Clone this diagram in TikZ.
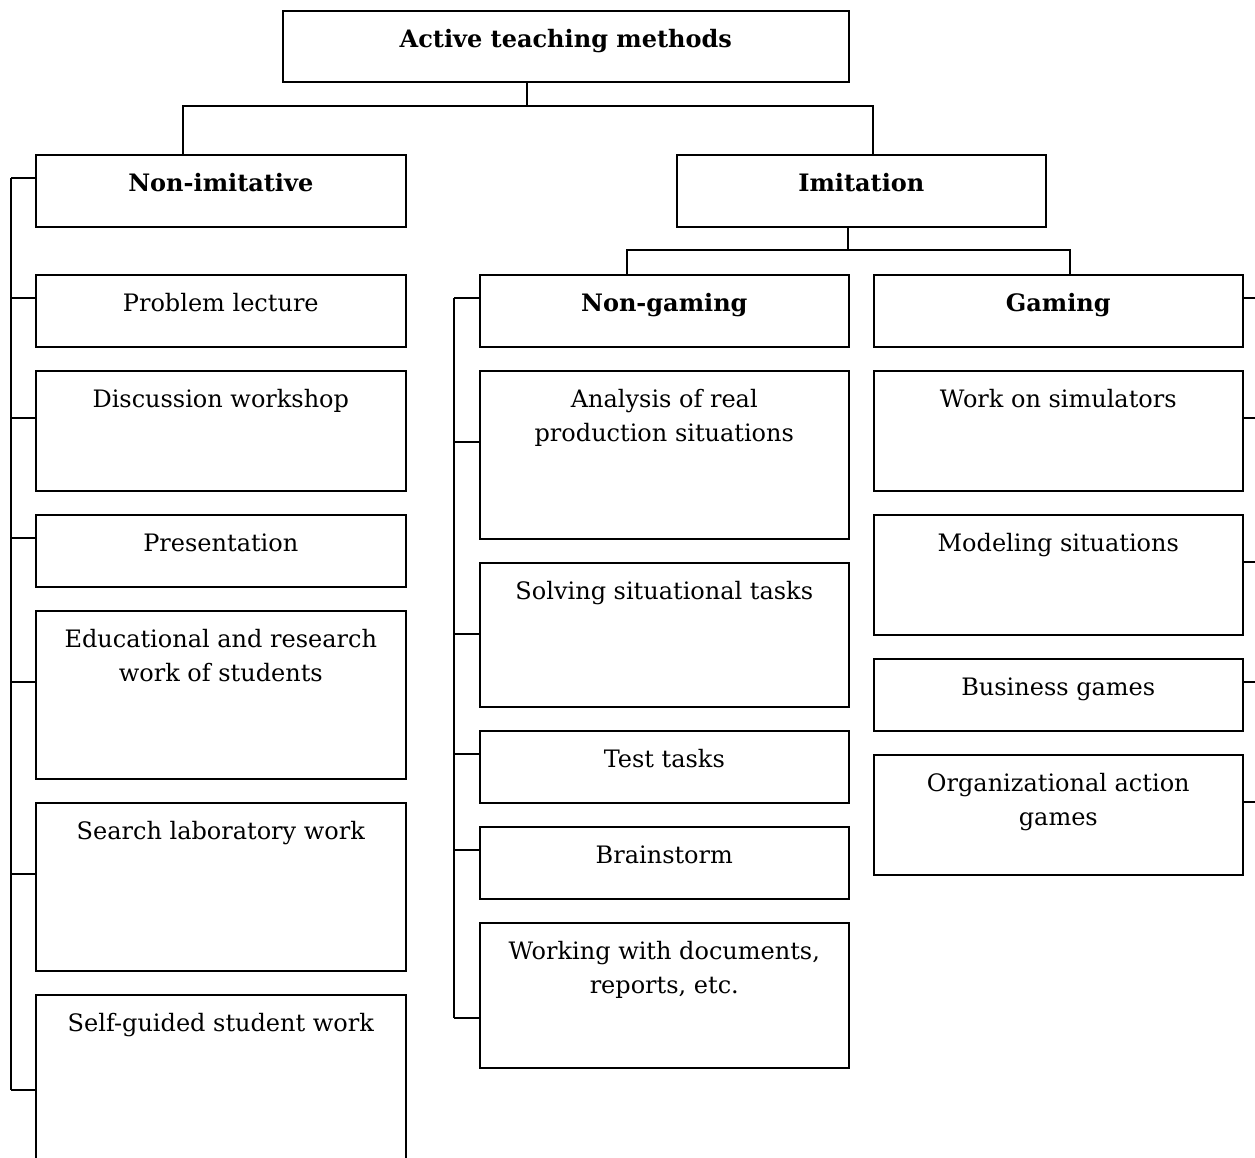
\documentclass[tikz,border=0pt]{standalone}
\usepackage{fontspec}
\setmainfont{DejaVu Serif}
\usetikzlibrary{calc}
\begin{document}
\begin{tikzpicture}[x=1pt,y=-1pt,
  box/.style={draw=black, line width=1.6pt, rectangle, inner sep=0, anchor=north west},
  txt/.style={font=\fontsize{24}{34}\selectfont, inner sep=0, align=center, anchor=base},
  hd/.style={txt, font=\fontsize{24}{34}\selectfont\bfseries},
  ln/.style={draw=black, line width=1.6pt}]
\useasboundingbox (0,0) rectangle (1255,1157);
\fill[white] (0,0) rectangle (1255,1157);
% boxes: name, x, y, w, h
\newcommand{\mybox}[5]{\node[box, minimum width=#4pt, minimum height=#5pt] (#1) at (#2,#3) {};}
\mybox{top}{282}{10}{566}{71}
\mybox{nonimit}{35}{154}{370}{72}
\mybox{imit}{676}{154}{369}{72}
% left column
\mybox{pl}{35}{274}{370}{72}
\mybox{dw}{35}{370}{370}{120}
\mybox{pr}{35}{514}{370}{72}
\mybox{er}{35}{610}{370}{168}
\mybox{sl}{35}{802}{370}{168}
\mybox{sg}{35}{994}{370}{196}
% middle column
\mybox{ng}{479}{274}{369}{72}
\mybox{an}{479}{370}{369}{168}
\mybox{ss}{479}{562}{369}{144}
\mybox{tt}{479}{730}{369}{72}
\mybox{bs}{479}{826}{369}{72}
\mybox{wd}{479}{922}{369}{145}
% right column
\mybox{gm}{873}{274}{369}{72}
\mybox{ws}{873}{370}{369}{120}
\mybox{ms}{873}{514}{369}{120}
\mybox{bg}{873}{658}{369}{72}
\mybox{oa}{873}{754}{369}{120}
% texts (base anchor = baseline of last line)
\newcommand{\mytxt}[4][37]{\node[#2] (#3-t) at ($(#3.north)+(0,#1)$) {#4};}
\mytxt{hd}{top}{Active teaching methods}
\mytxt{hd}{nonimit}{Non-imitative}
\mytxt{hd}{imit}{Imitation}
\mytxt{hd}{ng}{Non-gaming}
\mytxt{hd}{gm}{Gaming}
\mytxt{txt}{pl}{Problem lecture}
\mytxt{txt}{dw}{Discussion workshop}
\mytxt{txt}{pr}{Presentation}
\mytxt[71]{txt}{er}{Educational and research\\work of students}
\mytxt{txt}{sl}{Search laboratory work}
\mytxt{txt}{sg}{Self-guided student work}
\mytxt[71]{txt}{an}{Analysis of real\\production situations}
\mytxt{txt}{ss}{Solving situational tasks}
\mytxt{txt}{tt}{Test tasks}
\mytxt{txt}{bs}{Brainstorm}
\mytxt[71]{txt}{wd}{Working with documents,\\reports, etc.}
\mytxt{txt}{ws}{Work on simulators}
\mytxt{txt}{ms}{Modeling situations}
\mytxt{txt}{bg}{Business games}
\mytxt[71]{txt}{oa}{Organizational action\\games}
% top tree
\coordinate (j1) at (527,106);
\draw[ln] (top.south -| j1) -- (j1);
\draw[ln] (nonimit.north -| 183,0) |- (j1) -| (imit.north -| 873,0);
% imitation tree
\coordinate (j2) at (848,250);
\draw[ln] (imit.south -| j2) -- (j2);
\draw[ln] (ng.north -| 627,0) |- (j2) -| (gm.north -| 1070,0);
% left spine
\foreach \n/\yy in {nonimit/178,pl/298,dw/418,pr/538,er/682,sl/874,sg/1090}{
  \coordinate (L-\n) at (11,\yy);
  \draw[ln] (L-\n) -- (L-\n -| \n.west);
}
\draw[ln] (L-nonimit) -- (L-sg);
% middle spine
\foreach \n/\yy in {ng/298,an/442,ss/634,tt/754,bs/850,wd/1018}{
  \coordinate (M-\n) at (454,\yy);
  \draw[ln] (M-\n) -- (M-\n -| \n.west);
}
\draw[ln] (M-ng) -- (M-wd);
% right ticks
\foreach \n/\yy in {gm/298,ws/418,ms/562,bg/682,oa/802}{
  \coordinate (R-\n) at (1256,\yy);
  \draw[ln] (R-\n -| \n.east) -- (R-\n);
}
\end{tikzpicture}
\end{document}
